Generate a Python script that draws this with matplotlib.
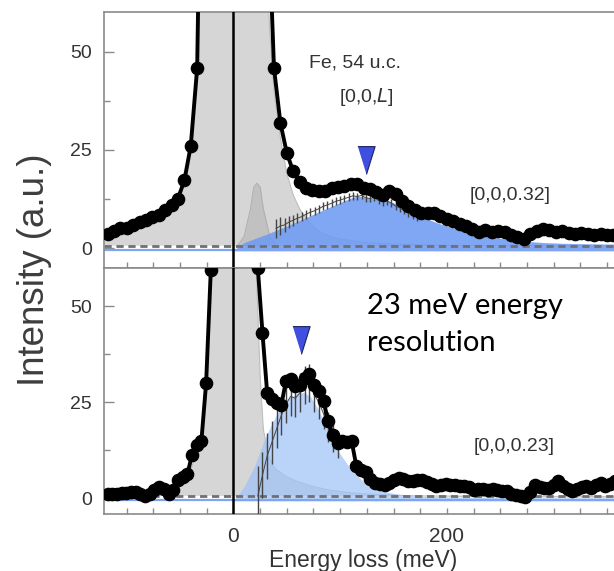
import matplotlib
matplotlib.use("Agg")
import matplotlib.pyplot as plt
from matplotlib.ticker import MultipleLocator, FixedLocator

plt.rcParams['font.family'] = ['Liberation Sans', 'DejaVu Sans']

# ---- [0,0,0.32] scan (top) ----
e_top = [-118, -112, -106, -100, -94, -88, -82, -76, -70, -64, -58, -52, -46, -40,
         -34, -28, -22, -16, -10, -4, 2, 8, 14, 20, 26, 32, 38, 44, 50, 56, 62, 68,
         74, 80, 86, 92, 98, 104, 110, 116, 122, 128, 134, 140, 146, 152, 158, 164,
         170, 176, 182, 188, 194, 200, 206, 212, 218, 224, 230, 236, 242, 248, 254,
         260, 266, 272, 278, 284, 290, 296, 302, 308, 314, 320, 326, 332, 338, 344,
         350, 356]
i_top = [3.5, 4.3, 5.0, 5.2, 5.8, 6.6, 7.2, 7.8, 8.3, 9.8, 11.0, 12.6, 17.2, 26.0,
         45.8, 150, 400, 900, 1500, 2000, 2100, 1600, 900, 450, 200, 90, 45.8, 31.8,
         24.2, 19.5, 16.7, 15.4, 14.8, 14.4, 14.6, 15.2, 15.6, 15.8, 16.4, 16.2, 15.2,
         15.0, 14.2, 13.6, 14.6, 13.8, 12.0, 10.6, 9.8, 9.0, 8.8, 9.0, 8.2, 7.4, 6.8,
         6.2, 5.6, 4.8, 4.2, 4.5, 4.0, 4.3, 4.1, 3.2, 2.8, 2.4, 3.6, 4.3, 4.9, 4.6,
         4.1, 4.4, 3.9, 3.6, 3.8, 3.5, 3.3, 3.6, 3.4, 3.3]

# elastic line fit
el_e_top = [-121, -110, -100, -90, -80, -70, -60, -52, -46, -40, -34, -30, -26, -20,
            -10, 0, 10, 20, 26, 30, 34, 38, 44, 50, 56, 62, 70, 80, 90, 100, 120,
            150, 200, 260, 357]
el_i_top = [2.5, 3.3, 4.0, 5.0, 6.2, 7.6, 10, 12.5, 17, 25, 45, 75, 140, 300, 1000,
            2000, 1000, 300, 140, 80, 55, 40, 28, 19, 13.5, 10, 6.8, 4.3, 3.0, 2.3,
            1.5, 1.0, 0.7, 0.6, 0.5]

# low-energy phonon contribution
ph_e_top = [4, 10, 16, 19, 22, 25, 28, 34, 40]
ph_i_top = [0.6, 3, 10, 15.5, 16.5, 15.5, 10, 3, 0.6]

# magnon fit
mag_e_top = [0, 10, 20, 30, 40, 50, 60, 70, 80, 90, 100, 110, 116, 122, 130, 140,
             150, 160, 170, 180, 190, 200, 215, 230, 245, 260, 275, 290, 310, 330, 357]
mag_i_top = [-0.6, 1.4, 2.4, 3.4, 4.5, 5.6, 6.8, 8.0, 9.2, 10.4, 11.6, 12.7, 13.2,
             13.0, 12.6, 12.2, 11.5, 10.2, 8.8, 7.6, 6.5, 5.6, 4.4, 3.4, 2.7, 2.1,
             1.7, 1.4, 1.2, 1.1, 1.0]

# elastic-subtracted data
sub_e_top = [40, 44, 48, 52, 56, 60, 64, 68, 72, 76, 80, 84, 88, 92, 96, 100, 104,
             108, 112, 116, 120, 124, 128, 132, 136, 140, 144, 148, 152, 156, 160,
             164, 168, 172]
sub_i_top = [5.0, 5.6, 5.9, 6.6, 7.1, 7.6, 8.0, 8.6, 9.1, 9.5, 10.0, 10.6, 11.0, 11.4,
             11.9, 12.2, 12.6, 12.9, 13.3, 13.1, 13.4, 12.8, 12.6, 12.9, 12.1, 11.8,
             12.0, 11.4, 10.7, 10.2, 9.6, 9.0, 8.4, 7.8]
sub_err_top = [2.5, 2.2, 1.8, 1.6, 1.4, 1.3, 1.2, 1.1, 1.0, 1.0, 1.0, 1.0, 1.0, 1.0,
               1.0, 1.0, 1.0, 1.0, 1.0, 1.0, 1.0, 1.0, 1.0, 1.0, 1.0, 1.0, 1.0, 1.0,
               1.0, 1.0, 1.0, 1.0, 1.0, 1.0]

# ---- [0,0,0.23] scan (bottom) ----
e_bot = [-118, -113.6, -109.2, -104.8, -100.4, -96, -91.6, -87.2, -82.8, -78.4, -74,
         -69.6, -65.2, -60.8, -56.4, -52, -47.6, -43.2, -38.8, -34.4, -30, -25.6,
         -21.2, -16.8, -12.4, -8, -3.6, 0.8, 5.2, 9.6, 14, 18.4, 22.8, 27.2, 31.6, 36,
         40.4, 44.8, 49.2, 53.6, 58, 62.4, 66.8, 71.2, 75.6, 80, 84.4, 88.8, 93.2,
         97.6, 102, 106.4, 110.8, 115.2, 119.6, 124, 128.4, 132.8, 137.2, 141.6, 146,
         150.4, 154.8, 159.2, 163.6, 168, 172.4, 176.8, 181.2, 185.6, 190, 194.4,
         198.8, 203.2, 207.6, 212, 216.4, 220.8, 225.2, 229.6, 234, 238.4, 242.8,
         247.2, 251.6, 256, 260.4, 264.8, 269.2, 273.6, 278, 282.4, 286.8, 291.2,
         295.6, 300, 304.4, 308.8, 313.2, 317.6, 322, 326.4, 330.8, 335.2, 339.6, 344,
         348.4, 352.8, 357.2]
i_bot = [1.0, 1.2, 1.0, 1.3, 1.4, 1.6, 1.7, 1.2, 0.6, 1.0, 2.2, 3.0, 2.4, 1.0, 2.2,
         4.6, 5.5, 6.2, 11.3, 13.9, 15.0, 30.0, 59.5, 150, 400, 900, 1400, 1500, 1200,
         700, 300, 120, 60, 43, 27.4, 25.8, 24.8, 24.2, 30.5, 30.9, 29.2, 29.5, 31.3,
         32.2, 29.5, 27.9, 25.3, 20.0, 16.5, 14.4, 14.8, 14.5, 14.8, 8.3, 7.4, 6.8,
         5.0, 4.0, 3.6, 3.5, 4.0, 4.8, 5.3, 4.9, 4.4, 4.5, 4.7, 4.8, 4.3, 3.6, 3.1,
         3.3, 3.6, 3.5, 3.3, 3.1, 3.2, 2.8, 2.2, 2.3, 2.5, 2.2, 2.4, 2.0, 1.8, 1.9,
         1.2, 0.9, 0.6, 0.2, 1.5, 3.5, 3.0, 2.6, 2.7, 3.4, 4.4, 3.2, 2.4, 1.8, 2.3,
         3.0, 3.1, 2.6, 3.5, 4.0, 3.2, 3.8, 4.4]

el_e_bot = [-121, -90, -70, -60, -52, -46, -40, -34, -30, -26, -22, -18, -10, 0, 10,
            18, 22, 25, 28, 32, 36, 40, 50, 60, 75, 90, 110, 130, 170, 250, 357]
el_i_bot = [0.3, 0.4, 0.6, 1.0, 2.5, 4.5, 7.5, 12, 17, 28, 55, 120, 700, 1500, 700,
            120, 55, 32, 18, 12, 9, 7.5, 5.5, 4.3, 3.0, 2.1, 1.4, 1.0, 0.6, 0.4, 0.3]

mag_e_bot = [1, 10, 20, 28, 36, 44, 52, 60, 66, 72, 80, 90, 100, 110, 120, 130, 140,
             155, 170, 200, 250, 300, 357]
mag_i_bot = [-0.4, 3, 8.5, 14.5, 19.5, 23.5, 26.0, 27.3, 27.5, 26.5, 22.8, 16.8, 11.5,
             7.5, 4.8, 2.9, 1.8, 1.0, 0.6, 0.3, 0.2, 0.1, 0.1]

sub_e_bot = [22.8, 27.2, 31.6, 36, 40.4, 44.8, 49.2, 53.6, 58, 62.4, 66.8, 71.2, 75.6,
             80, 84.4, 88.8, 93.2, 97.6]
sub_i_bot = [0.5, 6, 11, 14.5, 18, 21.5, 24.5, 26.5, 26.0, 27.5, 29.5, 30.0, 27.0,
             25.0, 22.0, 18.5, 15.5, 13.5]
sub_err_bot = [8, 6, 6, 5.5, 5, 5, 5, 5, 5, 5, 5, 5, 4.5, 4.5, 4, 4, 3.5, 3]

peak_top = (124, 22.3)
peak_bot = (63, 41.3)
background = 0.6

spine_c = '#8a8a8a'
text_c = '#333333'
tri = [(-0.62, 1), (0.62, 1), (0, -1)]

fig = plt.figure(figsize=(6.14, 5.71), dpi=100)
ax1 = fig.add_axes([0.1699, 0.5312, 0.8301, 0.4473])
ax2 = fig.add_axes([0.1699, 0.0993, 0.8301, 0.4319])


def panel(ax, e, i, el_e, el_i, mag_e, mag_i, mag_c, mag_a, sub_e, sub_i, sub_err, peak):
    ax.fill_between(el_e, background, el_i, color='#d6d6d6', lw=0, zorder=1)
    ax.plot(el_e, el_i, color='#bdbdbd', lw=0.8, zorder=1.1)
    ax.fill_between(mag_e, -0.7, mag_i, color=mag_c, alpha=mag_a, lw=0, zorder=2)
    ax.axhline(-0.5, color='#7ea4f2', lw=1.6, zorder=2.1)
    ax.axhline(background, color='#707070', lw=2, dashes=(2.6, 1.7), zorder=2.5)
    ax.errorbar(sub_e, sub_i, yerr=sub_err, fmt='-', color='#444444', lw=0.7,
                elinewidth=1.0, capsize=0, zorder=3)
    ax.axvline(0, color='black', lw=1.8, zorder=4)
    ax.plot(e, i, '-o', color='black', lw=2.8, ms=8.8, zorder=5)
    ax.plot(*peak, marker=tri, ms=20, color='#3f4fe0', mec='#1d2260', mew=0.8,
            zorder=6)

    ax.set_xlim(-121, 356.6)
    ax.xaxis.set_major_locator(FixedLocator([0, 200]))
    ax.xaxis.set_minor_locator(MultipleLocator(25))
    ax.yaxis.set_major_locator(FixedLocator([0, 25, 50]))
    ax.yaxis.set_minor_locator(FixedLocator([12.5, 37.5]))
    ax.tick_params(axis='both', which='both', direction='in', color=spine_c,
                   labelcolor=text_c, width=1.0)
    ax.tick_params(axis='y', which='major', length=7.5, labelsize=14, pad=9)
    ax.tick_params(axis='y', which='minor', length=4.5)
    ax.tick_params(axis='x', which='both', length=4.2, labelsize=15, pad=9)
    for side in ['left', 'top', 'bottom']:
        ax.spines[side].set_color(spine_c)
        ax.spines[side].set_linewidth(1.2)
    ax.spines['right'].set_visible(False)


panel(ax1, e_top, i_top, el_e_top, el_i_top, mag_e_top, mag_i_top, '#6f9bf2', 0.88,
      sub_e_top, sub_i_top, sub_err_top, peak_top)
ax1.fill_between(ph_e_top, background, ph_i_top, color='#9a9a9a', alpha=0.35, lw=0,
                 zorder=1.5)
ax1.plot(ph_e_top, ph_i_top, color='#b0b0b0', lw=0.8, zorder=1.6)
ax1.set_ylim(-5, 60)
ax1.tick_params(axis='x', which='both', labelbottom=False)

panel(ax2, e_bot, i_bot, el_e_bot, el_i_bot, mag_e_bot, mag_i_bot, '#9fc2f7', 0.72,
      sub_e_bot, sub_i_bot, sub_err_bot, peak_bot)
ax2.set_ylim(-4.2, 60)

ax1.text(114, 47.1, 'Fe, 54 u.c.', fontsize=14, color=text_c, ha='center', va='center')
ax1.text(125, 38.4, '[0,0,$\\mathit{L}$]', fontsize=14, color=text_c, ha='center',
         va='center')
ax1.text(259, 13.4, '[0,0,0.32]', fontsize=14, color=text_c, ha='center', va='center')
ax2.text(263, 13.4, '[0,0,0.23]', fontsize=14, color=text_c, ha='center', va='center')
ax2.text(124.8, 50.1, '23 meV energy', fontsize=21, family=['Lato', 'DejaVu Sans'],
         color='black', ha='left', va='center')
ax2.text(124.8, 40.4, 'resolution', fontsize=21, family=['Lato', 'DejaVu Sans'],
         color='black', ha='left', va='center')

fig.text(35 / 614, 1 - 270 / 571, 'Intensity (a.u.)', rotation=90, fontsize=26.5,
         color='#3d3d3d', ha='center', va='center')
fig.text(363 / 614, 1 - 561 / 571, 'Energy loss (meV)', fontsize=16.5, color=text_c,
         ha='center', va='center')

fig.savefig('out.png', dpi=100)
